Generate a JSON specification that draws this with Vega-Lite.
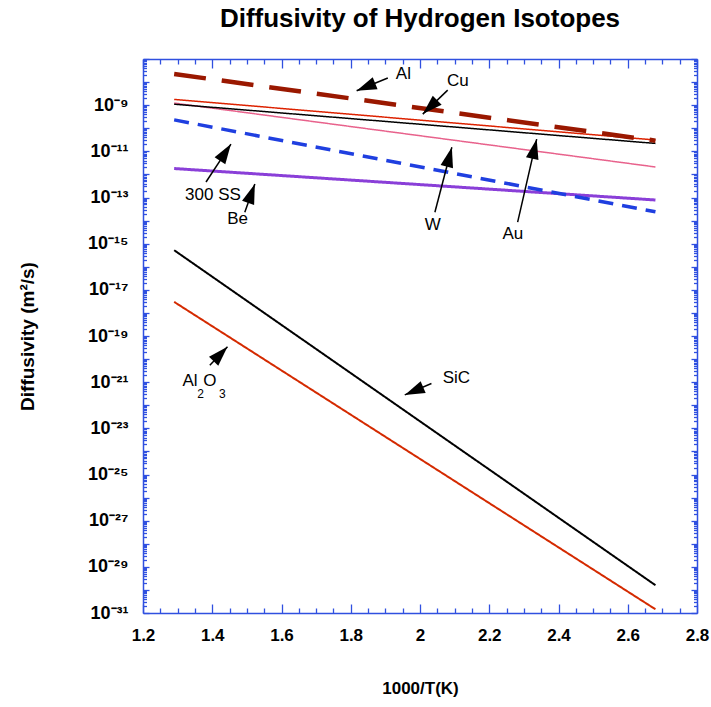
{
  "$schema": "https://vega.github.io/schema/vega-lite/v6.json",
  "width": 554,
  "height": 554,
  "autosize": {"type": "none"},
  "padding": {"left": 143, "top": 59, "right": 14, "bottom": 94},
  "title": {"text": "Diffusivity of Hydrogen Isotopes", "font": "Liberation Sans", "fontSize": 26, "fontWeight": "bold", "color": "#000000", "anchor": "middle", "offset": 18},
  "config": {
    "view": {"stroke": null},
    "axis": {"grid": false, "domainColor": "#3050e0", "tickColor": "#3050e0", "domainWidth": 1.5, "tickWidth": 1.3, "labelFont": "Liberation Sans", "titleFont": "Liberation Sans", "labelColor": "#000000", "titleColor": "#000000"}
  },
  "datasets": {
    "series": [
      {"series": "Al2O3", "x": 1.29, "D": 3.0e-18}, {"series": "Al2O3", "x": 2.68, "D": 1.45e-31},
      {"series": "SiC", "x": 1.29, "D": 5.2e-16}, {"series": "SiC", "x": 2.68, "D": 1.6e-30},
      {"series": "Be", "x": 1.29, "D": 1.8e-12}, {"series": "Be", "x": 2.68, "D": 7.8e-14},
      {"series": "300 SS", "x": 1.29, "D": 2.3e-10}, {"series": "300 SS", "x": 2.68, "D": 2.4e-14},
      {"series": "W", "x": 1.29, "D": 1.23e-9}, {"series": "W", "x": 2.68, "D": 2.1e-12},
      {"series": "Au", "x": 1.29, "D": 1.1e-9}, {"series": "Au", "x": 2.68, "D": 2.2e-11},
      {"series": "Cu", "x": 1.29, "D": 1.78e-9}, {"series": "Cu", "x": 2.68, "D": 3.1e-11},
      {"series": "Al", "x": 1.29, "D": 2.24e-8}, {"series": "Al", "x": 2.68, "D": 2.9e-11}
    ],
    "arrows": [
      {"name": "Al", "tx": 1.907, "ty": 1.5e-8, "hx": 1.817, "hy": 4.2e-9},
      {"name": "Cu", "tx": 2.08, "ty": 4.5e-9, "hx": 2.008, "hy": 4.1e-10},
      {"name": "W", "tx": 2.043, "ty": 2.3e-14, "hx": 2.092, "hy": 1.5e-11},
      {"name": "Au", "tx": 2.282, "ty": 8.6e-15, "hx": 2.337, "hy": 3.4e-11},
      {"name": "300 SS", "tx": 1.382, "ty": 4.7e-13, "hx": 1.454, "hy": 2.07e-11},
      {"name": "Be", "tx": 1.494, "ty": 2.3e-14, "hx": 1.523, "hy": 3.8e-13},
      {"name": "Al2O3", "tx": 1.393, "ty": 5.4e-21, "hx": 1.444, "hy": 3.4e-20},
      {"name": "SiC", "tx": 2.033, "ty": 8.7e-22, "hx": 1.956, "hy": 2.8e-22}
    ],
    "labels": [
      {"text": "Al", "x": 1.952, "y": 2.2e-8},
      {"text": "Cu", "x": 2.109, "y": 1.06e-8},
      {"text": "W", "x": 2.037, "y": 6.4e-15},
      {"text": "Au", "x": 2.268, "y": 2.7e-15},
      {"text": "300 SS", "x": 1.402, "y": 1.27e-13},
      {"text": "Be", "x": 1.473, "y": 1.22e-14},
      {"text": "SiC", "x": 2.105, "y": 1.56e-21},
      {"text": "Al", "x": 1.336, "y": 1.1e-21},
      {"text": "O", "x": 1.393, "y": 1.1e-21}
    ],
    "subs": [
      {"text": "2", "x": 1.366, "y": 3.2e-22},
      {"text": "3", "x": 1.429, "y": 3.2e-22}
    ]
  },
  "layer": [
    {
      "data": {"name": "series"},
      "mark": {"type": "line", "clip": true},
      "encoding": {
        "x": {"field": "x", "type": "quantitative", "scale": {"domain": [1.2, 2.8], "nice": false, "zero": false},
          "axis": {"orient": "bottom", "values": [1.2, 1.4, 1.6, 1.8, 2, 2.2, 2.4, 2.6, 2.8], "format": "~g", "tickSize": -9, "labelPadding": 23, "labelFontSize": 17, "labelFontWeight": "bold", "labelFlush": false, "labelOverlap": false, "title": "1000/T(K)", "titleFontSize": 17, "titleFontWeight": "bold", "titleY": 75, "titleBaseline": "middle"}},
        "y": {"field": "D", "type": "quantitative", "scale": {"type": "log", "domain": [1e-31, 1e-7], "nice": false},
          "axis": {"orient": "left", "values": [1e-31, 1e-30, 1e-29, 1e-28, 1e-27, 1e-26, 1e-25, 1e-24, 1e-23, 1e-22, 1e-21, 1e-20, 1e-19, 1e-18, 1e-17, 1e-16, 1e-15, 1e-14, 1e-13, 1e-12, 1e-11, 1e-10, 1e-9, 1e-8, 1e-7],
            "tickSize": -6, "labelPadding": 21, "labelFontSize": 18, "labelFontWeight": "bold", "labelOverlap": false, "labelFlush": false, "labelBaseline": "middle",
            "labelExpr": "(abs(round(log(datum.value)/LN10)) % 2 == 0 || round(log(datum.value)/LN10) == -7) ? '' : '10' + ['⁻³¹','⁻²⁹','⁻²⁷','⁻²⁵','⁻²³','⁻²¹','⁻¹⁹','⁻¹⁷','⁻¹⁵','⁻¹³','⁻¹¹','⁻⁹'][(round(log(datum.value)/LN10) + 31) / 2]",
            "title": "Diffusivity (m²/s)", "titleFontSize": 19, "titleFontWeight": "bold", "titleX": -116, "titleY": 277, "titleBaseline": "middle", "titleAngle": -90}},
        "color": {"field": "series", "type": "nominal", "scale": {"domain": ["Al", "Cu", "Au", "W", "300 SS", "Be", "SiC", "Al2O3"], "range": ["#9a1800", "#dd2200", "#000000", "#e8628c", "#1f3fe0", "#8a3fd8", "#000000", "#d42a00"]}, "legend": null},
        "strokeWidth": {"field": "series", "type": "nominal", "scale": {"type": "ordinal", "domain": ["Al", "Cu", "Au", "W", "300 SS", "Be", "SiC", "Al2O3"], "range": [4.5, 1.5, 1.5, 1.5, 3.5, 3, 2, 2]}, "legend": null},
        "strokeDash": {"field": "series", "type": "nominal", "scale": {"domain": ["Al", "Cu", "Au", "W", "300 SS", "Be", "SiC", "Al2O3"], "range": [[32, 16], [1, 0], [1, 0], [1, 0], [15, 9], [1, 0], [1, 0], [1, 0]]}, "legend": null}
      }
    },
    {
      "data": {"name": "arrows"},
      "mark": {"type": "rule", "color": "#000000", "strokeWidth": 1.5},
      "encoding": {
        "x": {"field": "tx", "type": "quantitative", "scale": {"domain": [1.2, 2.8], "nice": false, "zero": false},
          "axis": {"orient": "bottom", "values": [1.25, 1.3, 1.35, 1.45, 1.5, 1.55, 1.65, 1.7, 1.75, 1.85, 1.9, 1.95, 2.05, 2.1, 2.15, 2.25, 2.3, 2.35, 2.45, 2.5, 2.55, 2.65, 2.7, 2.75], "tickSize": -5, "labels": false, "domain": false, "title": null}},
        "y": {"field": "ty", "type": "quantitative", "scale": {"type": "log", "domain": [1e-31, 1e-7], "nice": false},
          "axis": {"orient": "left", "values": [2e-31,3e-31,4e-31,5e-31,6e-31,7e-31,8e-31,9e-31,2e-30,3e-30,4e-30,5e-30,6e-30,7e-30,8e-30,9e-30,2e-29,3e-29,4e-29,5e-29,6e-29,7e-29,8e-29,9e-29,2e-28,3e-28,4e-28,5e-28,6e-28,7e-28,8e-28,9e-28,2e-27,3e-27,4e-27,5e-27,6e-27,7e-27,8e-27,9e-27,2e-26,3e-26,4e-26,5e-26,6e-26,7e-26,8e-26,9e-26,2e-25,3e-25,4e-25,5e-25,6e-25,7e-25,8e-25,9e-25,2e-24,3e-24,4e-24,5e-24,6e-24,7e-24,8e-24,9e-24,2e-23,3e-23,4e-23,5e-23,6e-23,7e-23,8e-23,9e-23,2e-22,3e-22,4e-22,5e-22,6e-22,7e-22,8e-22,9e-22,2e-21,3e-21,4e-21,5e-21,6e-21,7e-21,8e-21,9e-21,2e-20,3e-20,4e-20,5e-20,6e-20,7e-20,8e-20,9e-20,2e-19,3e-19,4e-19,5e-19,6e-19,7e-19,8e-19,9e-19,2e-18,3e-18,4e-18,5e-18,6e-18,7e-18,8e-18,9e-18,2e-17,3e-17,4e-17,5e-17,6e-17,7e-17,8e-17,9e-17,2e-16,3e-16,4e-16,5e-16,6e-16,7e-16,8e-16,9e-16,2e-15,3e-15,4e-15,5e-15,6e-15,7e-15,8e-15,9e-15,2e-14,3e-14,4e-14,5e-14,6e-14,7e-14,8e-14,9e-14,2e-13,3e-13,4e-13,5e-13,6e-13,7e-13,8e-13,9e-13,2e-12,3e-12,4e-12,5e-12,6e-12,7e-12,8e-12,9e-12,2e-11,3e-11,4e-11,5e-11,6e-11,7e-11,8e-11,9e-11,2e-10,3e-10,4e-10,5e-10,6e-10,7e-10,8e-10,9e-10,2e-9,3e-9,4e-9,5e-9,6e-9,7e-9,8e-9,9e-9,2e-8,3e-8,4e-8,5e-8,6e-8,7e-8,8e-8,9e-8], "tickSize": -3.5, "labels": false, "domain": false, "title": null}},
        "x2": {"field": "hx"},
        "y2": {"field": "hy"}
      }
    },
    {
      "data": {"name": "arrows"},
      "transform": [
        {"calculate": "atan2((datum.hx - datum.tx) * 346.5, (log(datum.hy) - log(datum.ty)) / LN10 * 23.07) * 180 / PI", "as": "ang"}
      ],
      "mark": {"type": "point", "shape": "M0,0L-0.32,1L0.32,1Z", "filled": true, "color": "#000000", "opacity": 1, "size": 1600, "strokeWidth": 0},
      "encoding": {
        "x": {"field": "hx", "type": "quantitative", "scale": {"domain": [1.2, 2.8], "nice": false, "zero": false},
          "axis": {"orient": "top", "values": [1.2, 1.4, 1.6, 1.8, 2, 2.2, 2.4, 2.6, 2.8], "tickSize": -9, "labels": false, "domain": true, "title": null}},
        "y": {"field": "hy", "type": "quantitative", "scale": {"type": "log", "domain": [1e-31, 1e-7], "nice": false},
          "axis": {"orient": "right", "values": [1e-31, 1e-30, 1e-29, 1e-28, 1e-27, 1e-26, 1e-25, 1e-24, 1e-23, 1e-22, 1e-21, 1e-20, 1e-19, 1e-18, 1e-17, 1e-16, 1e-15, 1e-14, 1e-13, 1e-12, 1e-11, 1e-10, 1e-9, 1e-8, 1e-7], "tickSize": -6, "labels": false, "domain": true, "title": null}},
        "angle": {"field": "ang", "type": "quantitative", "scale": null}
      }
    },
    {
      "data": {"name": "labels"},
      "mark": {"type": "text", "font": "Liberation Sans", "fontSize": 17, "color": "#000000", "align": "center", "baseline": "middle"},
      "encoding": {
        "x": {"field": "x", "type": "quantitative", "scale": {"domain": [1.2, 2.8], "nice": false, "zero": false},
          "axis": {"orient": "top", "values": [1.25, 1.3, 1.35, 1.45, 1.5, 1.55, 1.65, 1.7, 1.75, 1.85, 1.9, 1.95, 2.05, 2.1, 2.15, 2.25, 2.3, 2.35, 2.45, 2.5, 2.55, 2.65, 2.7, 2.75], "tickSize": -5, "labels": false, "domain": false, "title": null}},
        "y": {"field": "y", "type": "quantitative", "scale": {"type": "log", "domain": [1e-31, 1e-7], "nice": false},
          "axis": {"orient": "right", "values": [2e-31,3e-31,4e-31,5e-31,6e-31,7e-31,8e-31,9e-31,2e-30,3e-30,4e-30,5e-30,6e-30,7e-30,8e-30,9e-30,2e-29,3e-29,4e-29,5e-29,6e-29,7e-29,8e-29,9e-29,2e-28,3e-28,4e-28,5e-28,6e-28,7e-28,8e-28,9e-28,2e-27,3e-27,4e-27,5e-27,6e-27,7e-27,8e-27,9e-27,2e-26,3e-26,4e-26,5e-26,6e-26,7e-26,8e-26,9e-26,2e-25,3e-25,4e-25,5e-25,6e-25,7e-25,8e-25,9e-25,2e-24,3e-24,4e-24,5e-24,6e-24,7e-24,8e-24,9e-24,2e-23,3e-23,4e-23,5e-23,6e-23,7e-23,8e-23,9e-23,2e-22,3e-22,4e-22,5e-22,6e-22,7e-22,8e-22,9e-22,2e-21,3e-21,4e-21,5e-21,6e-21,7e-21,8e-21,9e-21,2e-20,3e-20,4e-20,5e-20,6e-20,7e-20,8e-20,9e-20,2e-19,3e-19,4e-19,5e-19,6e-19,7e-19,8e-19,9e-19,2e-18,3e-18,4e-18,5e-18,6e-18,7e-18,8e-18,9e-18,2e-17,3e-17,4e-17,5e-17,6e-17,7e-17,8e-17,9e-17,2e-16,3e-16,4e-16,5e-16,6e-16,7e-16,8e-16,9e-16,2e-15,3e-15,4e-15,5e-15,6e-15,7e-15,8e-15,9e-15,2e-14,3e-14,4e-14,5e-14,6e-14,7e-14,8e-14,9e-14,2e-13,3e-13,4e-13,5e-13,6e-13,7e-13,8e-13,9e-13,2e-12,3e-12,4e-12,5e-12,6e-12,7e-12,8e-12,9e-12,2e-11,3e-11,4e-11,5e-11,6e-11,7e-11,8e-11,9e-11,2e-10,3e-10,4e-10,5e-10,6e-10,7e-10,8e-10,9e-10,2e-9,3e-9,4e-9,5e-9,6e-9,7e-9,8e-9,9e-9,2e-8,3e-8,4e-8,5e-8,6e-8,7e-8,8e-8,9e-8], "tickSize": -3.5, "labels": false, "domain": false, "title": null}},
        "text": {"field": "text"}
      }
    },
    {
      "data": {"name": "subs"},
      "mark": {"type": "text", "font": "Liberation Sans", "fontSize": 12, "color": "#000000", "align": "center", "baseline": "middle"},
      "encoding": {
        "x": {"field": "x", "type": "quantitative", "scale": {"domain": [1.2, 2.8], "nice": false, "zero": false}, "axis": null},
        "y": {"field": "y", "type": "quantitative", "scale": {"type": "log", "domain": [1e-31, 1e-7], "nice": false}, "axis": null},
        "text": {"field": "text"}
      }
    }
  ],
  "resolve": {"axis": {"x": "independent", "y": "independent"}}
}
